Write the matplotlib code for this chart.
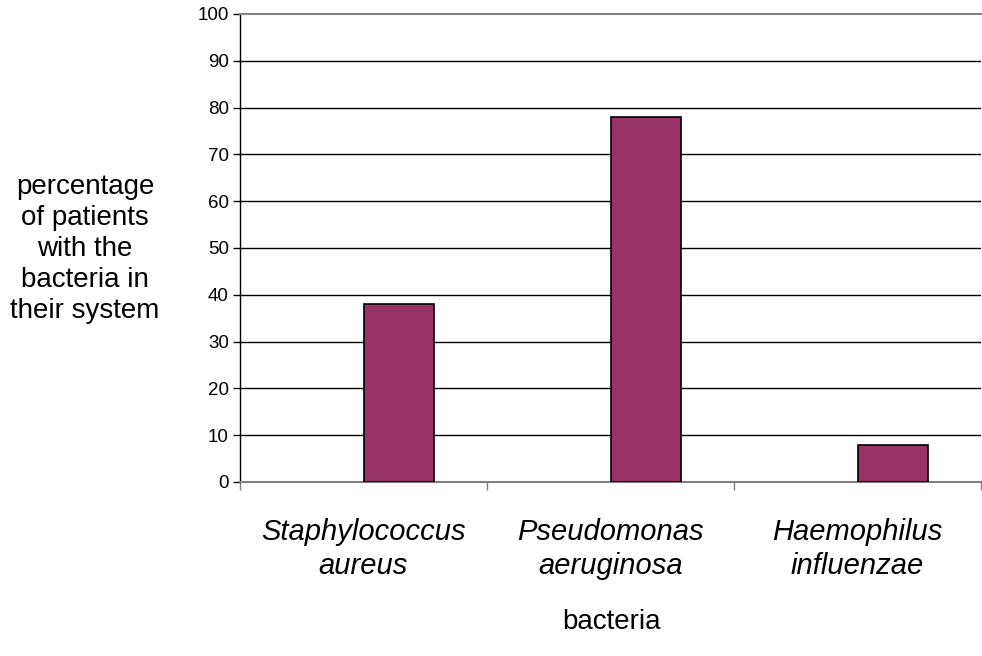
import matplotlib
matplotlib.use("Agg")
import matplotlib.pyplot as plt
from matplotlib.ticker import FixedLocator

plt.rcParams['font.family'] = ['Liberation Sans', 'DejaVu Sans']

# bacteria found in patients, percentage of patients
categories = ['Staphylococcus\naureus', 'Pseudomonas\naeruginosa', 'Haemophilus\ninfluenzae']
percentages = [38, 78, 8]
y_ticks = [0, 10, 20, 30, 40, 50, 60, 70, 80, 90, 100]

fig = plt.figure(figsize=(9.82, 6.56), dpi=100)
ax = fig.add_axes([240/982, 1 - 482/656, 741/982, 468/656])

x = list(range(len(categories)))
ax.bar(x, percentages, width=0.287, align='edge', color='#993366',
       edgecolor='black', linewidth=1.2, zorder=3)

ax.set_xlim(-0.5, len(categories) - 0.5)
ax.set_ylim(0, 100)

# gridlines
for v in y_ticks[1:-1]:
    ax.axhline(v, color='black', linewidth=1, zorder=1)

ax.spines['right'].set_visible(False)
ax.spines['top'].set_color('#808080')
ax.spines['top'].set_linewidth(1.5)
ax.spines['bottom'].set_color('#808080')
ax.spines['bottom'].set_linewidth(1.5)
ax.spines['left'].set_color('black')
ax.spines['left'].set_linewidth(1)

ax.set_yticks(y_ticks)
ax.set_yticklabels([str(v) for v in y_ticks], fontsize=13.5)
ax.tick_params(axis='y', direction='out', length=5, width=1, pad=3)

ax.set_xticks(x)
ax.set_xticklabels(categories, fontsize=21, style='italic', linespacing=1.25)
ax.tick_params(axis='x', which='major', length=0, pad=26)
ax.xaxis.set_minor_locator(FixedLocator([-0.5, 0.5, 1.5, 2.5]))
ax.tick_params(axis='x', which='minor', direction='out', length=6, width=1, color='#808080')

fig.text(85/982, 1 - 249/656, 'percentage\nof patients\nwith the\nbacteria in\ntheir system',
         ha='center', va='center', fontsize=20, linespacing=1.26)
fig.text(611/982, 1 - 622/656, 'bacteria', ha='center', va='center', fontsize=20)

fig.savefig('out.png', dpi=100)
